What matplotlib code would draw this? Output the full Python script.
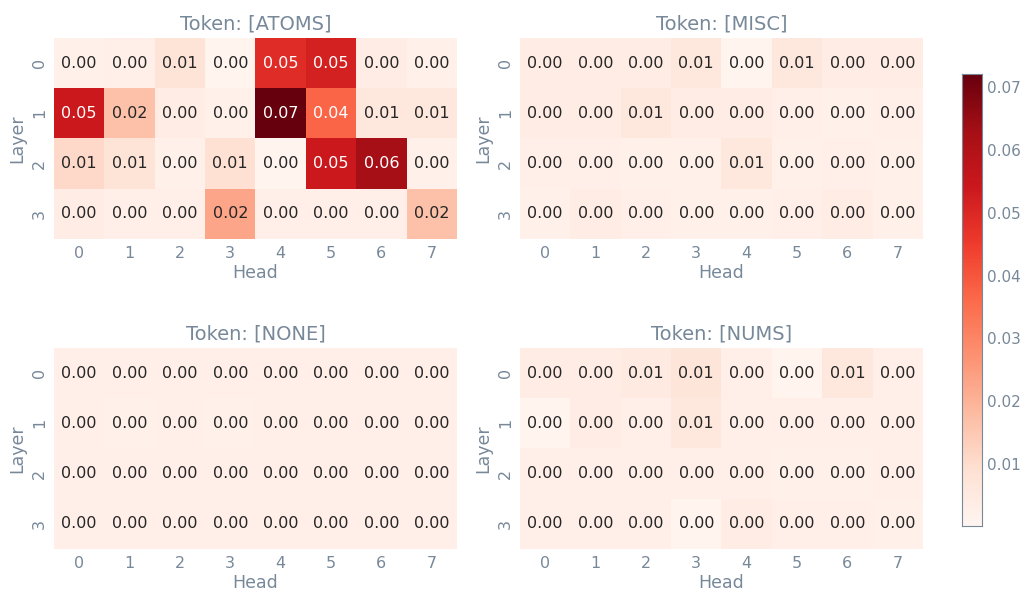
import numpy as np
import matplotlib
matplotlib.use("Agg")
import matplotlib.pyplot as plt
import seaborn as sns

tokens = ["[ATOMS]", "[MISC]", "[NONE]", "[NUMS]"]
heads = [0, 1, 2, 3, 4, 5, 6, 7]
layers = [0, 1, 2, 3]

# attention share per layer (rows) x head (cols)
atoms = [
    [0.002, 0.003, 0.008, 0.001, 0.049, 0.052, 0.004, 0.002],
    [0.054, 0.017, 0.004, 0.002, 0.072, 0.037, 0.006, 0.006],
    [0.011, 0.008, 0.002, 0.009, 0.001, 0.054, 0.063, 0.002],
    [0.004, 0.003, 0.003, 0.023, 0.003, 0.003, 0.003, 0.017],
]
misc = [
    [0.004, 0.004, 0.004, 0.006, 0.001, 0.006, 0.004, 0.004],
    [0.004, 0.004, 0.006, 0.004, 0.004, 0.003, 0.002, 0.003],
    [0.003, 0.003, 0.002, 0.002, 0.006, 0.002, 0.003, 0.002],
    [0.002, 0.004, 0.003, 0.002, 0.002, 0.003, 0.004, 0.002],
]
none = [
    [0.003, 0.003, 0.003, 0.003, 0.003, 0.003, 0.003, 0.003],
    [0.003, 0.002, 0.003, 0.002, 0.003, 0.003, 0.003, 0.003],
    [0.003, 0.003, 0.003, 0.003, 0.003, 0.003, 0.003, 0.003],
    [0.003, 0.003, 0.003, 0.003, 0.003, 0.003, 0.003, 0.003],
]
nums = [
    [0.004, 0.004, 0.005, 0.007, 0.003, 0.001, 0.006, 0.003],
    [0.001, 0.004, 0.003, 0.006, 0.003, 0.003, 0.003, 0.003],
    [0.003, 0.003, 0.003, 0.003, 0.003, 0.002, 0.002, 0.003],
    [0.003, 0.003, 0.003, 0.001, 0.004, 0.003, 0.003, 0.002],
]
data = [atoms, misc, none, nums]

vmin, vmax = 0.0002, 0.072
txt = "#778899"

plt.rcParams['font.family'] = ['DejaVu Sans']
fig = plt.figure(figsize=(10.26, 5.93), dpi=100)

lefts = [0.0526, 0.5068]
bottoms = [0.597, 0.0742]
w, h = 0.3928, 0.339
cax = fig.add_axes([0.9376, 0.113, 0.0195, 0.762])

for i, (tok, vals) in enumerate(zip(tokens, data)):
    ax = fig.add_axes([lefts[i % 2], bottoms[i // 2], w, h])
    sns.heatmap(np.array(vals), ax=ax, cmap="Reds", vmin=vmin, vmax=vmax,
                annot=True, fmt=".2f", annot_kws={"size": 11.5},
                xticklabels=heads, yticklabels=layers,
                cbar=(i == 0), cbar_ax=cax if i == 0 else None)
    ax.set_title(f"Token: {tok}", fontsize=14, color=txt)
    ax.set_xlabel("Head", fontsize=12.5, color=txt, labelpad=2)
    ax.set_ylabel("Layer", fontsize=12.5, color=txt)
    ax.tick_params(length=0, labelsize=11.5, labelcolor=txt, pad=5)
    ax.tick_params(axis="y", labelrotation=90)

cax.tick_params(length=0, labelsize=11, labelcolor=txt)
cax.set_yticks([0.01, 0.02, 0.03, 0.04, 0.05, 0.06, 0.07])
for s in cax.spines.values():
    s.set_visible(True)
    s.set_edgecolor(txt)

fig.savefig("out.png", dpi=100)
